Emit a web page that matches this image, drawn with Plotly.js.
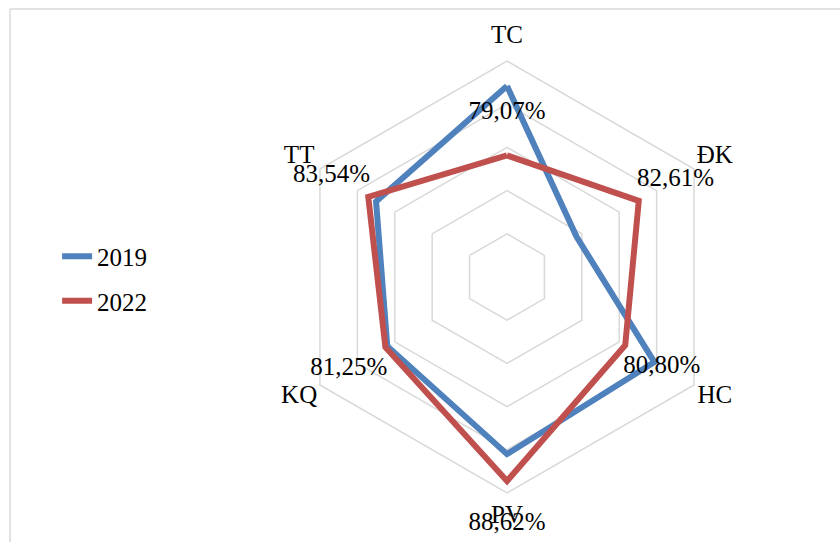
<!DOCTYPE html>
<html>
<head>
<meta charset="utf-8">
<script src="https://cdn.plot.ly/plotly-3.0.1.min.js"></script>
<style>html,body{margin:0;padding:0;background:#fff;}#chart{width:840px;height:542px;}</style>
</head>
<body>
<div id="chart"></div>
<script>
const categories = ["TC", "ĐK", "HC", "PV", "KQ", "TT"];
const values2019 = [87.1, 74.3, 84.7, 85.5, 81.0, 82.5];
const values2022 = [79.07, 82.61, 80.80, 88.62, 81.25, 83.54];
const labels2022 = ["79,07%", "82,61%", "80,80%", "88,62%", "81,25%", "83,54%"];
const seriesNames = ["2019", "2022"];

const FONT = "'Liberation Serif', 'Times New Roman', serif";
const labelOffset = 4.9;      // data-label distance beyond the 2022 point (radial units)
const categoryGap = 2.78;     // category-name distance beyond the outer ring (radial units)

// geometry of the radar (pixels)
const W = 840, H = 542, CX = 507, CY = 277, R = 216;
const rMin = 65, rMax = 90, rMaxLabels = 95;
const R2 = R * (rMaxLabels - rMin) / (rMax - rMin);
const dom = rad => ({
  x: [(CX - rad) / W, (CX + rad) / W],
  y: [(H - CY - rad) / H, (H - CY + rad) / H]
});

const close = a => a.concat([a[0]]);

const traces = [
  {
    type: "scatterpolar", mode: "lines", name: seriesNames[0], legendgroup: "a",
    r: close(values2019), theta: close(categories),
    line: {color: "#4f81bd", width: 6}, cliponaxis: false
  },
  {
    type: "scatterpolar", mode: "lines", name: seriesNames[1], legendgroup: "b",
    r: close(values2022), theta: close(categories),
    line: {color: "#c0504d", width: 6}, cliponaxis: false
  },
  {
    type: "scatterpolar", subplot: "polar2", mode: "text", showlegend: false,
    r: values2022.map(v => v + labelOffset), theta: categories,
    text: labels2022, textposition: "middle center",
    textfont: {family: FONT, size: 25, color: "#000"}, cliponaxis: false,
    hoverinfo: "skip"
  },
  {
    type: "scatterpolar", subplot: "polar2", mode: "text", showlegend: false,
    r: categories.map(() => rMax + categoryGap), theta: categories,
    text: categories, textposition: "middle center",
    textfont: {family: FONT, size: 25, color: "#000"}, cliponaxis: false,
    hoverinfo: "skip"
  }
];

const layout = {
  width: W, height: H,
  margin: {l: 0, r: 0, t: 0, b: 0},
  paper_bgcolor: "#fff",
  font: {family: FONT, size: 25, color: "#000"},
  showlegend: true,
  legend: {
    x: 0.068, xanchor: "left", y: 0.569, yanchor: "top",
    font: {family: FONT, size: 25, color: "#000"},
    traceorder: "grouped", tracegroupgap: 9, bgcolor: "rgba(0,0,0,0)"
  },
  polar: {
    domain: dom(R),
    gridshape: "linear",
    bgcolor: "rgba(0,0,0,0)",
    radialaxis: {
      range: [rMin, rMax], tickvals: [70, 75, 80, 85, 90],
      showticklabels: false, ticks: "", showline: false,
      gridcolor: "#d9d9d9", gridwidth: 1.5
    },
    angularaxis: {
      direction: "clockwise", rotation: 90,
      showgrid: false, showline: true, linecolor: "#d9d9d9", linewidth: 1.5,
      ticks: "", showticklabels: false
    }
  },
  polar2: {
    domain: dom(R2),
    gridshape: "linear",
    bgcolor: "rgba(0,0,0,0)",
    radialaxis: {
      range: [rMin, rMaxLabels], visible: false, showgrid: false,
      showticklabels: false, ticks: "", showline: false
    },
    angularaxis: {
      direction: "clockwise", rotation: 90, categoryarray: categories,
      visible: false, showgrid: false, showline: false, showticklabels: false, ticks: ""
    }
  },
  shapes: [
    {type: "line", xref: "paper", yref: "paper", x0: 10/840, x1: 1.01, y0: 1 - 9/542, y1: 1 - 9/542,
     line: {color: "#d9d9d9", width: 1.5}},
    {type: "line", xref: "paper", yref: "paper", x0: 10/840, x1: 10/840, y0: 1 - 9/542, y1: -0.01,
     line: {color: "#d9d9d9", width: 1.5}}
  ]
};

Plotly.newPlot("chart", traces, layout, {displayModeBar: false, staticPlot: true});
</script>
</body>
</html>
